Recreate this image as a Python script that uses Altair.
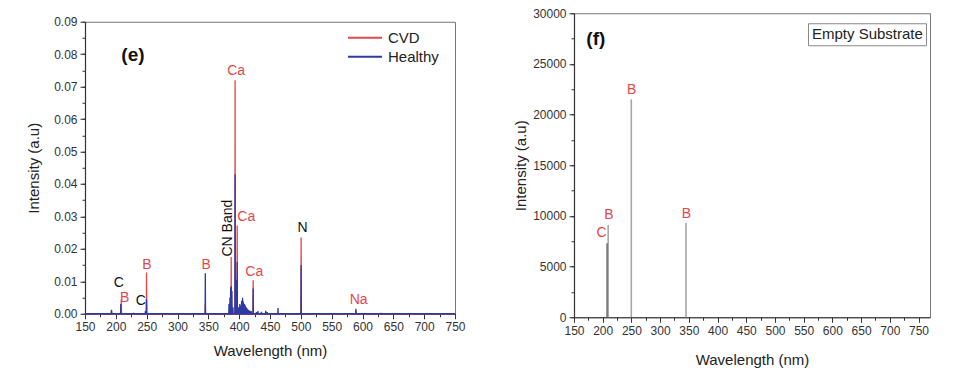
import altair as alt
import pandas as pd

# ---------------- panel (e) data ----------------
cvd_wl = [193.0, 208.9, 249.8, 345.1, 387.1, 393.4, 396.8, 406.0, 422.7, 500.5, 589.3]
cvd_int = [0.0010, 0.0045, 0.0127, 0.0030, 0.0175, 0.0720, 0.0272, 0.0040, 0.0103, 0.0235, 0.0010]

healthy_wl = [193.0, 208.0, 229.0, 247.9, 249.8, 345.1, 383.5, 385.0, 386.2, 387.3, 388.3,
              390.0, 393.4, 394.8, 396.8, 399.0, 401.0, 402.5, 404.0, 405.5, 407.0, 408.5,
              410.0, 411.5, 413.0, 415.0, 417.0, 419.5, 422.7, 428.0, 430.5, 436.0, 443.0,
              445.5, 463.0, 500.5, 589.3, 630.0]
healthy_int = [0.0012, 0.0030, 0.0003, 0.0008, 0.0045, 0.0125, 0.0030, 0.0050, 0.0082, 0.0085, 0.0070,
               0.0020, 0.0430, 0.0105, 0.0160, 0.0020, 0.0030, 0.0025, 0.0040, 0.0049, 0.0035, 0.0030,
               0.0025, 0.0020, 0.0016, 0.0012, 0.0010, 0.0008, 0.0078, 0.0005, 0.0008, 0.0006, 0.0009,
               0.0005, 0.0018, 0.0150, 0.0015, 0.0003]

e_lab_text = ["C", "B", "C", "B", "B", "CN Band", "Ca", "Ca", "Ca", "N", "Na"]
e_lab_x = [204.7, 214.5, 240.5, 250.3, 346.4, 382.0, 395.2, 411.5, 424.5, 502.7, 593.8]
e_lab_y = [0.0096, 0.0050, 0.0038, 0.0151, 0.0151, 0.0264, 0.0749, 0.0299, 0.0129, 0.0265, 0.0043]
e_lab_red = [False, True, False, True, True, False, True, True, True, False, True]

# ---------------- panel (f) data ----------------
f_wl = [208.0, 209.5, 249.8, 345.1]
f_int = [7300, 9100, 21500, 9300]
f_el = ["C", "B", "B", "B"]
f_lab_text = ["C", "B", "B", "B"]
f_lab_x = [198.0, 211.0, 250.5, 345.6]
f_lab_y = [8290, 10070, 22400, 10160]

# axis ticks
x_major = [150 + 50 * i for i in range(13)]
x_minor = [150 + 25 * i for i in range(25)]
e_y_major = [round(0.01 * i, 2) for i in range(10)]
e_y_minor = [round(0.005 * i, 3) for i in range(19)]
f_y_major = [5000 * i for i in range(7)]
f_y_minor = [2500 * i for i in range(13)]

RED = "#e2474b"
BLUE = "#2d3aa6"
FONT = "Liberation Sans"


def spectrum(wls, ints, name):
    rows = [{"wl": 150.0, "I": 0.0, "series": name}]
    for w, v in zip(wls, ints):
        rows.append({"wl": w - 0.35, "I": 0.0, "series": name})
        rows.append({"wl": w, "I": v, "series": name})
        rows.append({"wl": w + 0.35, "I": 0.0, "series": name})
    rows.append({"wl": 750.0, "I": 0.0, "series": name})
    return pd.DataFrame(rows).sort_values("wl")


def major_axis(values, title, fmt, tpad, orient):
    return alt.Axis(values=values, title=title, format=fmt, labelFlush=False, labelOverlap=False,
                    tickSize=5, labelPadding=3, titlePadding=tpad, grid=False, orient=orient)


def minor_axis(values, orient):
    return alt.Axis(values=values, title=None, labels=False, domain=False, tickSize=3,
                    grid=False, orient=orient)


cvd_df = spectrum(cvd_wl, cvd_int, "CVD")
hea_df = spectrum(healthy_wl, healthy_int, "Healthy")
e_lab = pd.DataFrame({"text": e_lab_text, "wl": e_lab_x, "I": e_lab_y, "red": e_lab_red})

e_xs = alt.Scale(domain=[150, 750], nice=False, zero=False)
e_ys = alt.Scale(domain=[0, 0.09], nice=False)

color_e = alt.Color("series:N",
                    scale=alt.Scale(domain=["CVD", "Healthy"], range=[RED, BLUE]),
                    legend=alt.Legend(title=None, orient="none", legendX=262, legendY=8,
                                      symbolType="stroke", symbolSize=1156, symbolStrokeWidth=2,
                                      labelFontSize=15, labelFont=FONT, labelColor="#222",
                                      labelOffset=5, rowPadding=3, clipHeight=16))

minor_e = alt.Chart(cvd_df).mark_line(opacity=0).encode(
    x=alt.X("wl:Q", scale=e_xs, axis=minor_axis(x_minor, "bottom")),
    y=alt.Y("I:Q", scale=e_ys, axis=minor_axis(e_y_minor, "left")))
red_line = alt.Chart(cvd_df).mark_line(strokeWidth=1.3).encode(
    x=alt.X("wl:Q", scale=e_xs, axis=major_axis(x_major, "Wavelength (nm)", "d", 11, "bottom")),
    y=alt.Y("I:Q", scale=e_ys, axis=major_axis(e_y_major, "Intensity (a.u)", ".2f", 12, "left")),
    color=color_e, order="wl:Q")
blue_line = alt.Chart(hea_df).mark_line(strokeWidth=1.3).encode(
    x=alt.X("wl:Q", scale=e_xs, axis=None), y=alt.Y("I:Q", scale=e_ys, axis=None),
    color=color_e, order="wl:Q")

lab_e = alt.Chart(e_lab).mark_text(font=FONT, fontSize=14, baseline="middle").encode(
    x=alt.X("wl:Q", axis=None), y=alt.Y("I:Q", axis=None), text="text:N",
    color=alt.condition("datum.red", alt.value(RED), alt.value("#111"))
).transform_filter("datum.text !== 'CN Band'")
lab_cn = alt.Chart(e_lab).mark_text(font=FONT, fontSize=14, baseline="middle", angle=270).encode(
    x=alt.X("wl:Q", axis=None), y=alt.Y("I:Q", axis=None), text="text:N", color=alt.value("#111")
).transform_filter("datum.text === 'CN Band'")
tag_e = alt.Chart(pd.DataFrame({"t": ["(e)"], "wl": [227.7], "I": [0.0798]})).mark_text(
    font=FONT, fontSize=19, fontWeight="bold", color="#111", baseline="middle").encode(
    x=alt.X("wl:Q", axis=None), y=alt.Y("I:Q", axis=None), text="t:N")

left = alt.layer(minor_e, red_line, blue_line, lab_e, lab_cn, tag_e).resolve_axis(
    x="independent", y="independent").properties(width=370, height=292)

# ---------------- right ----------------
f_df = pd.DataFrame({"wl": f_wl, "I": f_int, "el": f_el, "series": ["Empty Substrate"] * len(f_wl)})
f_lab = pd.DataFrame({"text": f_lab_text, "wl": f_lab_x, "I": f_lab_y})

f_xs = alt.Scale(domain=[150, 770], nice=False, zero=False)
f_ys = alt.Scale(domain=[0, 30000], nice=False)

minor_f = alt.Chart(f_df).mark_rule(opacity=0).encode(
    x=alt.X("wl:Q", scale=f_xs, axis=minor_axis(x_minor, "bottom")),
    y=alt.Y("I:Q", scale=f_ys, axis=minor_axis(f_y_minor, "left")))
rules_f = alt.Chart(f_df).mark_rule(strokeWidth=1.6).encode(
    x=alt.X("wl:Q", scale=f_xs, axis=major_axis(x_major, "Wavelength (nm)", "d", 16, "bottom")),
    y=alt.Y("I:Q", scale=f_ys, axis=major_axis(f_y_major, "Intensity (a.u)", "d", 4, "left")),
    y2=alt.datum(0),
    color=alt.condition("datum.el === 'C'", alt.value("#333333"),
                        alt.Color("series:N", scale=alt.Scale(domain=["Empty Substrate"], range=["#a6a6a6"]),
                                  legend=alt.Legend(title=None, orient="none", legendX=234, legendY=10,
                                                    symbolSize=0, symbolOpacity=0, symbolStrokeWidth=0,
                                                    labelOffset={"expr": "-14"}, labelFontSize=15,
                                                    labelFont=FONT, labelColor="#222", padding=3,
                                                    strokeColor="#888", fillColor="white")))
)
lab_f = alt.Chart(f_lab).mark_text(font=FONT, fontSize=14, baseline="middle", color=RED).encode(
    x=alt.X("wl:Q", axis=None), y=alt.Y("I:Q", axis=None), text="text:N")
tag_f = alt.Chart(pd.DataFrame({"t": ["(f)"], "wl": [188.0], "I": [27430]})).mark_text(
    font=FONT, fontSize=19, fontWeight="bold", color="#111", baseline="middle").encode(
    x=alt.X("wl:Q", axis=None), y=alt.Y("I:Q", axis=None), text="t:N")

right = alt.layer(minor_f, rules_f, lab_f, tag_f).resolve_axis(
    x="independent", y="independent").properties(width=356, height=304)

chart = alt.hconcat(left, right, spacing=47, center=True).resolve_scale(
    x="independent", y="independent", color="independent"
).resolve_legend(color="independent").properties(
    padding={"left": 18, "top": -2, "right": 5, "bottom": 0}
).configure(background="white").configure_view(stroke="#777", strokeWidth=1).configure_axis(
    labelFont=FONT, labelFontSize=12, labelColor="#333",
    titleFont=FONT, titleFontSize=15, titleFontWeight="normal", titleColor="#222",
    domainColor="#333", tickColor="#333", domainWidth=1.2, tickWidth=1
)

chart.save("out.html", embed_options={"renderer": "svg", "actions": False})
